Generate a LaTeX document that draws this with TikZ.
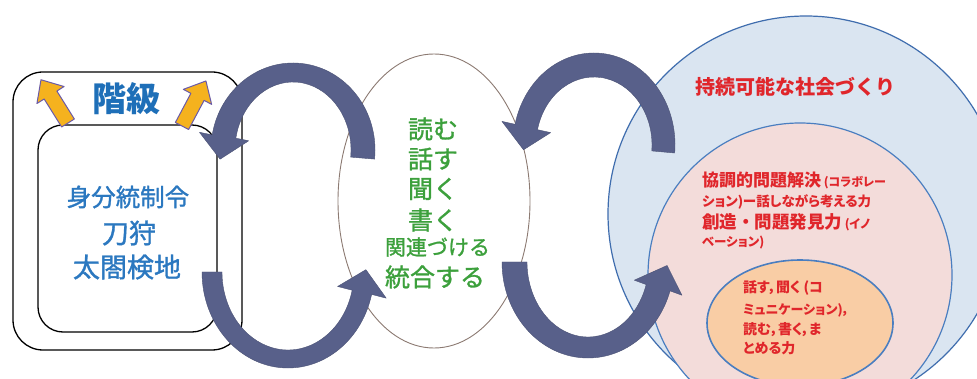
\documentclass[tikz,border=0pt]{standalone}
\usepackage{fontspec}
\newfontfamily\jp{Noto Sans CJK JP}
\newfontfamily\jpm[FakeBold=1.2]{Noto Sans CJK JP}
\newfontfamily\jpp[RawFeature=+palt]{Noto Sans CJK JP}
\newcommand{\setfs}[1]{\fontsize{#1}{#1}\selectfont}
\definecolor{arrowc}{HTML}{58608A}
\definecolor{yellowc}{HTML}{F5B21E}
\definecolor{purplec}{HTML}{6A5AA8}
\definecolor{bluetxt}{HTML}{2B78C0}
\definecolor{titleblue}{HTML}{1E6FB8}
\definecolor{greentxt}{HTML}{3CA03C}
\definecolor{redtxt}{HTML}{E0262B}
\definecolor{ellc}{HTML}{8C7A72}
\definecolor{lightblue}{HTML}{DAE5F1}
\definecolor{circline}{HTML}{3F6DAE}
\definecolor{pinkc}{HTML}{F3DCDA}
\definecolor{orangec}{HTML}{F9CDA5}
\definecolor{circline2}{HTML}{4A7EC0}
\begin{document}
\begin{tikzpicture}[x=1pt,y=1pt,
  bigarrow/.style={fill=arrowc, draw=arrowc!85!black, line width=0.4pt, line join=round},
  yarrow/.style={fill=yellowc, draw=purplec, line width=1pt, line join=round},
  box/.style={draw=black, line width=1.3pt},
  txt/.style={inner sep=0pt, outer sep=0pt},
  bluet/.style={txt, text=bluetxt},
  greent/.style={txt, text=greentxt, anchor=west},
  redt/.style={txt, text=redtxt, anchor=west}]
\clip (0,0) rectangle (977,-379);
\fill[white] (0,0) rectangle (977,-379);

% left boxes
\draw[box, rounded corners=30pt] (13,-72) rectangle (242,-350);
\draw[box, rounded corners=25pt] (38,-125) rectangle (217,-332);

% middle ellipse
\path[draw=ellc, line width=0.9pt, fill=white] (434,-201) ellipse[x radius=96, y radius=147];

% right nested circles
\path[draw=circline, fill=lightblue, line width=1.2pt] (806,-214) circle[radius=198];
\path[draw=circline2, fill=pinkc, line width=1.2pt] (800,-275) circle[radius=152];
\path[draw=circline2, fill=orangec, line width=1.6pt] (800,-323) ellipse[x radius=93, y radius=63];

% circular arrows
\begin{scope}[shift={(293,-150)}]
\path[bigarrow] (-6:82 and 87) arc[start angle=-6,end angle=170,x radius=82,y radius=87]
  -- (170:95 and 102) -- (-72.93,-9.19) -- (170:45 and 53) -- (170:58 and 68)
  arc[start angle=170,end angle=-6,x radius=58,y radius=68] -- cycle;
\end{scope}
\begin{scope}[shift={(288,-272)}]
\path[bigarrow] (180:86 and 96) arc[start angle=180,end angle=346.5,x radius=86,y radius=96]
  -- (346.5:101 and 112) -- (77.9,2.34) -- (346.5:51 and 62) -- (346.5:66 and 78)
  arc[start angle=346.5,end angle=180,x radius=66,y radius=78] -- cycle;
\end{scope}
\begin{scope}[shift={(594,-145)}]
\path[bigarrow] (-5:81 and 92) arc[start angle=-5,end angle=167,x radius=81,y radius=92]
  -- (167:94.5 and 105) -- (-70.5,-4.8) -- (167:44.5 and 55) -- (167:58 and 68)
  arc[start angle=167,end angle=-5,x radius=58,y radius=68] -- cycle;
\end{scope}
\begin{scope}[shift={(588,-262)}]
\path[bigarrow] (180:86 and 96) arc[start angle=180,end angle=342.5,x radius=86,y radius=96]
  -- (342.5:98.5 and 110.5) -- (79.1,-3.46) -- (342.5:48.5 and 60.5) -- (342.5:61 and 75)
  arc[start angle=342.5,end angle=180,x radius=61,y radius=75] -- cycle;
\end{scope}

% yellow arrows
\path[yarrow, shift={(68,-123)}, rotate=122] (0,-7.5) -- (33,-7.5) -- (33,-16) -- (51,0) -- (33,16) -- (33,7.5) -- (0,7.5) -- cycle;
\path[yarrow, shift={(182,-126)}, rotate=62] (0,-7.5) -- (33,-7.5) -- (33,-16) -- (51,0) -- (33,16) -- (33,7.5) -- (0,7.5) -- cycle;

% left texts
\node[txt, text=titleblue, font=\jp\bfseries\setfs{34}] (kaikyu) at (126,-99) {階級};
\node[bluet, font=\jpm\setfs{24.5}] (l1) at (128,-197) {身分統制令};
\node[bluet, font=\jpm\setfs{27}] (l2) at (129,-233) {刀狩};
\node[bluet, font=\jpm\setfs{27}] (l3) at (127,-267) {太閤検地};

% middle texts
\node[greent, font=\jpm\setfs{25}] (m1) at (408,-129) {読む};
\node[greent, font=\jpm\setfs{25}] (m2) at (408,-159) {話す};
\node[greent, font=\jpm\setfs{25}] (m3) at (408,-189) {聞く};
\node[greent, font=\jpm\setfs{25}] (m4) at (408,-220) {書く};
\node[greent, font=\jpm\setfs{21}] (m5) at (385,-247) {関連づける};
\node[greent, font=\jpm\setfs{25}] (m6) at (385,-277) {統合する};

% right texts
\node[txt, text=redtxt, font=\jp\bfseries\setfs{20}] (r0) at (795,-87) {持続可能な社会づくり};
\node[redt] (p1) at (702,-180) {\jp\bfseries\setfs{17}協調的問題解決\jpp\setfs{12} (コラボレー};
\node[redt, font=\jpp\bfseries\setfs{13.5}] (p2) at (702,-202) {ション)ー話しながら考える力};
\node[redt] (p3) at (702,-222) {\jp\bfseries\setfs{17.5}創造・問題発見力\jpp\setfs{12} (イノ};
\node[redt, font=\jpp\bfseries\setfs{12.5}] (p4) at (702,-243) {ベーション)};
\node[redt, font=\jpp\bfseries\setfs{14}] (o1) at (743,-288) {話す，聞く (コ};
\node[redt, font=\jpp\bfseries\setfs{13}] (o2) at (743,-310) {ミュニケーション)，};
\node[redt, font=\jpp\bfseries\setfs{14}] (o3) at (743,-330) {読む，書く，ま};
\node[redt, font=\jpp\bfseries\setfs{14}] (o4) at (743,-348) {とめる力};
\end{tikzpicture}
\end{document}
